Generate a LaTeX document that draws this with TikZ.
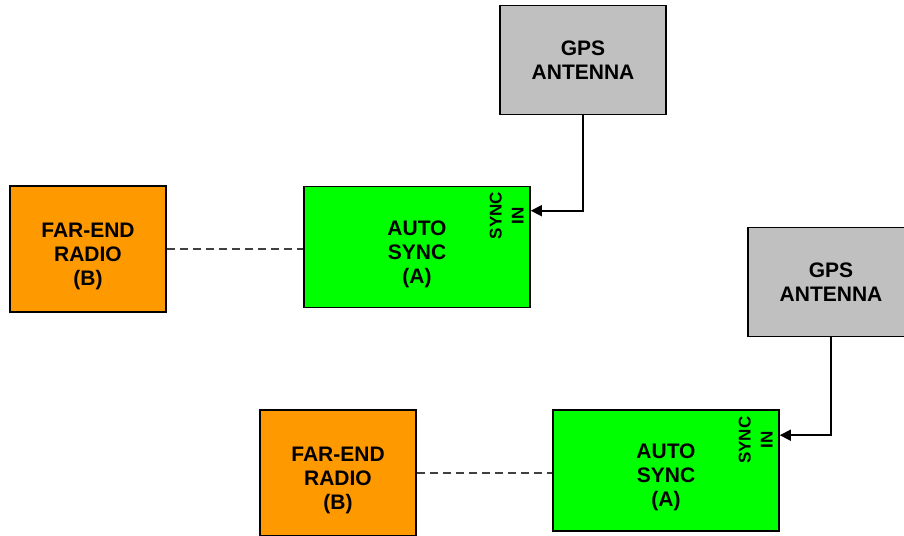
\documentclass[tikz,border=0pt]{standalone}
\usepackage{fontspec}
\setmainfont{Liberation Sans}
\usetikzlibrary{arrows.meta,positioning,calc}
\definecolor{RadioOrange}{HTML}{FF9900}
\definecolor{SyncGreen}{HTML}{00FF00}
\definecolor{GpsGray}{HTML}{C0C0C0}
\definecolor{LinkGray}{HTML}{404040}
\newcommand{\padtop}{\rule{0pt}{29pt}}
\begin{document}
\begin{tikzpicture}[x=1pt,y=-1pt]
    \tikzset{blk/.style={draw=black,line width=1.6pt,align=center,inner sep=0pt,
        font=\fontsize{21}{24}\selectfont\bfseries},
      radio/.style={blk,fill=RadioOrange,minimum width=156pt,minimum height=126pt},
      sync/.style={blk,fill=SyncGreen,minimum width=226pt,minimum height=121pt},
      gps/.style={blk,fill=GpsGray,minimum width=166pt,minimum height=109pt},
      port/.style={rotate=90,align=center,inner sep=0pt,font=\fontsize{17}{22}\selectfont\bfseries},
      feed/.style={-{Triangle[length=11pt,width=11pt]},line width=1.6pt,black},
      link/.style={LinkGray,line width=2pt,dash pattern=on 8pt off 5pt}}
    \useasboundingbox (0,0) rectangle (904,535);
    % upper pair
    \node[sync] (as1) at (417,247) {\padtop AUTO\\SYNC\\(A)};
    \node[radio] (fr1) at (88,249) {\padtop FAR-END\\RADIO\\(B)};
    \node[gps] (gps1) at (583,60) {GPS\\ANTENNA};
    \coordinate (in1) at ([yshift=-25pt]as1.north east);
    \node[port] (sy1) at ([xshift=-24pt,yshift=-5pt]in1) {SYNC\\IN};
    \draw[feed] (gps1.south) |- (in1);
    \draw[link] (fr1.east) -- (fr1.east -| as1.west);
    % lower pair
    \node[sync] (as2) at (666,470.5) {\padtop AUTO\\SYNC\\(A)};
    \node[radio] (fr2) at (338,473) {\padtop FAR-END\\RADIO\\(B)};
    \node[gps] (gps2) at (831,282) {GPS\\ANTENNA};
    \coordinate (in2) at ([yshift=-26pt]as2.north east);
    \node[port] (sy2) at ([xshift=-24pt,yshift=-5pt]in2) {SYNC\\IN};
    \draw[feed] (gps2.south) |- (in2);
    \draw[link] (fr2.east) -- (fr2.east -| as2.west);
  \end{tikzpicture}
\end{document}
